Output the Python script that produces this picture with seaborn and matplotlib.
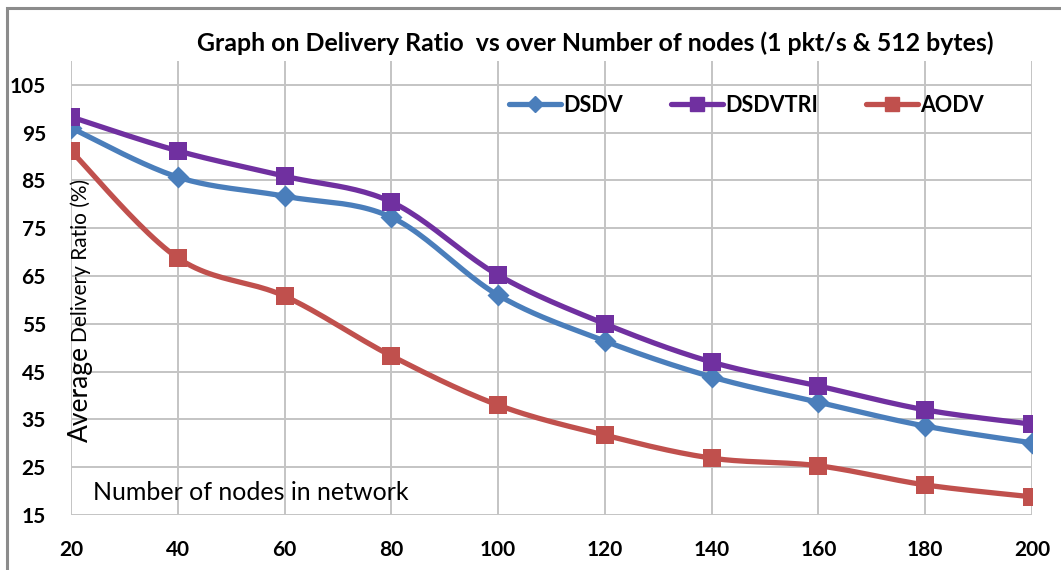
import numpy as np
import pandas as pd
import seaborn as sns
import matplotlib
matplotlib.use("Agg")
import matplotlib.pyplot as plt
from matplotlib.lines import Line2D
from matplotlib.patches import Rectangle

nodes = [20, 40, 60, 80, 100, 120, 140, 160, 180, 200]
dsdv = [96.0, 85.7, 81.7, 77.3, 61.0, 51.4, 43.9, 38.6, 33.6, 30.1]
dsdvtri = [98.3, 91.2, 85.9, 80.5, 65.2, 55.0, 47.0, 42.0, 37.0, 34.0]
aodv = [91.2, 68.8, 60.8, 48.3, 38.0, 31.7, 26.9, 25.3, 21.3, 18.8]
series_names = ["DSDV", "DSDVTRI", "AODV"]
yticks = [15, 25, 35, 45, 55, 65, 75, 85, 95, 105]
title = "Graph on Delivery Ratio  vs over Number of nodes (1 pkt/s & 512 bytes)"

colors = {"DSDV": "#4A7EBB", "DSDVTRI": "#7030A0", "AODV": "#C0504D"}
markers = {"DSDV": "D", "DSDVTRI": "s", "AODV": "s"}

sns.set_theme(style="white")
FONT = ["Lato", "DejaVu Sans"]
plt.rcParams['font.family'] = FONT
plt.rcParams['text.color'] = "black"
plt.rcParams['xtick.color'] = "black"
plt.rcParams['ytick.color'] = "black"


def smooth(x, y, n=24):
    x = np.asarray(x, float)
    y = np.asarray(y, float)
    xs, ys = [], []
    m = len(x)
    for i in range(m - 1):
        i0 = max(i - 1, 0)
        i3 = min(i + 2, m - 1)
        p0, p1, p2, p3 = [(x[k], y[k]) for k in (i0, i, i + 1, i3)]
        t = np.linspace(0, 1, n, endpoint=(i == m - 2))
        for d, arr in ((0, xs), (1, ys)):
            a0, a1, a2, a3 = p0[d], p1[d], p2[d], p3[d]
            c1 = a1 + (a2 - a0) / 6
            c2 = a2 - (a3 - a1) / 6
            arr.extend((1 - t) ** 3 * a1 + 3 * (1 - t) ** 2 * t * c1 + 3 * (1 - t) * t ** 2 * c2 + t ** 3 * a2)
    return np.array(xs), np.array(ys)


raw = pd.DataFrame({
    "nodes": nodes * 3,
    "value": dsdv + dsdvtri + aodv,
    "series": [s for s in series_names for _ in nodes],
})

rows = []
for name, vals in zip(series_names, [dsdv, dsdvtri, aodv]):
    sx, sy = smooth(nodes, vals)
    rows.append(pd.DataFrame({"nodes": sx, "value": sy, "series": name}))
sm = pd.concat(rows, ignore_index=True)

fig = plt.figure(figsize=(10.61, 5.70), dpi=100)
ax = fig.add_axes([71 / 1061, 55 / 570, (1032 - 71) / 1061, (515 - 61) / 570])

sns.lineplot(data=sm, x="nodes", y="value", hue="series", palette=colors,
             sort=False, estimator=None, linewidth=3.8, legend=False, ax=ax, zorder=3)
for name in series_names:
    sub = raw[raw.series == name]
    sns.scatterplot(data=sub, x="nodes", y="value", color=colors[name],
                    marker=markers[name], s=155 if markers[name] == "s" else 125,
                    edgecolor=colors[name], linewidth=0, legend=False, ax=ax, zorder=4)

ax.set_xlim(20, 200)
ax.set_ylim(15, 110)
ax.set_xticks(nodes)
ax.set_yticks(yticks)
ax.grid(True, color="#C4C4C4", linewidth=1.4)
ax.set_axisbelow(True)
for s in ax.spines.values():
    s.set_visible(False)
ax.tick_params(length=0, labelsize=15)
ax.tick_params(axis="x", pad=18)
ax.tick_params(axis="y", pad=18)
for lab in ax.get_xticklabels() + ax.get_yticklabels():
    lab.set_fontweight("bold")
ax.set_xlabel("")
ax.set_ylabel("")

handles = [Line2D([0], [0], color=colors[n], lw=3.8, marker=markers[n],
                  markersize=10 if markers[n] == "s" else 8) for n in series_names]
ax.legend(handles, series_names, loc="center", bbox_to_anchor=(0.703, 0.903), ncol=3,
          frameon=False, handlelength=2.4, handletextpad=0.1, columnspacing=2.25,
          prop={"weight": "bold", "size": 15.5})

fig.text(595 / 1061, 1 - 43 / 570, title, ha="center", va="center",
         fontsize=17.9, fontweight="bold")
fig.text(93 / 1061, 1 - 492 / 570, "Number of nodes in network", ha="left", va="center",
         fontsize=18)
fig.text(80 / 1061, 1 - 394 / 570, "Average", rotation=90, ha="center", va="center",
         fontsize=19)
fig.text(81 / 1061, 1 - 260 / 570, "Delivery Ratio (%)", rotation=90, ha="center",
         va="center", fontsize=15)

fig.patches.append(Rectangle((7 / 1061, -0.1), 1.2, (570 - 8) / 570 + 0.1,
                             transform=fig.transFigure, fill=False,
                             edgecolor="#8C8C8C", linewidth=2.2))

fig.savefig("out.png", dpi=100)
